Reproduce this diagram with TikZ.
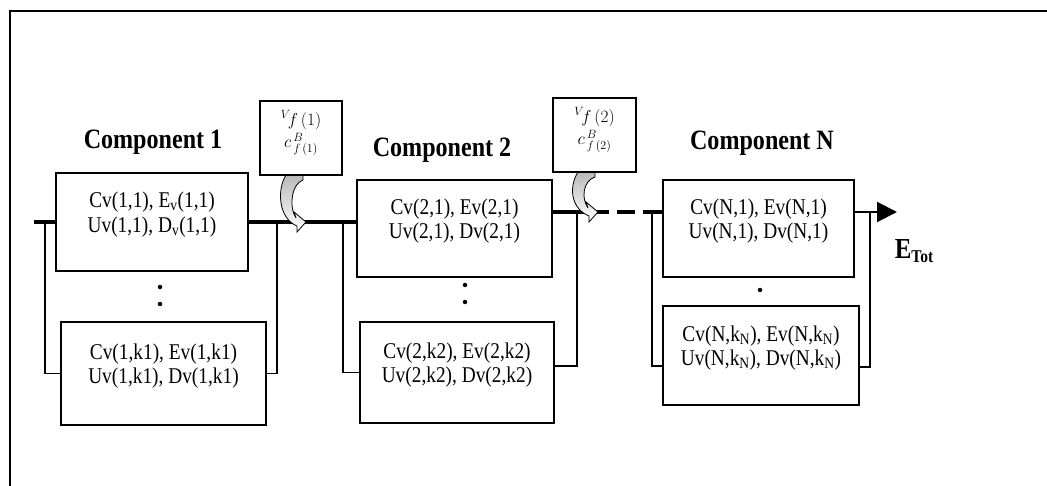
\documentclass[tikz,border=0pt]{standalone}
\usepackage{fontspec}
\setmainfont{Liberation Serif}[FakeStretch=0.86]
\usetikzlibrary{arrows.meta}
\tikzset{
  unit/.style     = {rectangle, draw, line width=1.8pt, fill=white,
                     minimum width=194pt, minimum height=99pt, inner sep=0pt,
                     align=center, font=\fontsize{22.5}{24.5}\selectfont},
  callout/.style  = {rectangle, draw, line width=1.6pt, fill=white,
                     minimum width=82pt, minimum height=74pt, inner sep=0pt,
                     align=center, font=\fontsize{17.28}{15}\selectfont},
  title/.style    = {font=\fontsize{28}{30}\selectfont\bfseries},
  mainline/.style = {line width=4.5pt},
  branch/.style   = {line width=1.4pt},
  output/.style   = {line width=2pt, -{Triangle[length=20pt, width=20pt]}},
  dotmark/.style  = {circle, fill, inner sep=0pt, minimum size=4.5pt},
  bend arrow/.pic = {
    \draw[line width=0.8pt, top color=gray!55, bottom color=white]
      (-18,-#1) -- (-1,-#1) -- (-1,{-#1+5})
      .. controls (-13,{-#1+9}) and (-15,-14) .. (-8,-4)
      -- (-10,-10) -- (2,0) -- (-7,10) -- (-7,4)
      .. controls (-26,-4) and (-27,{-#1+14}) .. cycle;
  }
}

\begin{document}
\begin{tikzpicture}[x=1pt, y=-1pt]
  \useasboundingbox (0,0) rectangle (1047,486);
  \draw[line width=2.6pt] (10,486) -- (10,11) -- (1047,11);

  \node[title] (t1) at (153,142) {Component 1};
  \node[title] (t2) at (442,150) {Component 2};
  \node[title] (tN) at (762,143) {Component N};

  \node[unit, minimum width=192pt, minimum height=98pt] (c1top) at (152,222)
    {Cv(1,1), E\textsubscript{v}(1,1)\\Uv(1,1), D\textsubscript{v}(1,1)\\[-12pt]\strut};
  \node[unit, minimum width=205pt, minimum height=103pt] (c1bot) at (163.5,373.5)
    {Cv(1,k1), Ev(1,k1)\\Uv(1,k1), Dv(1,k1)\\[-12pt]\strut};
  \node[unit, minimum width=195pt, minimum height=97pt] (c2top) at (454.5,228.5)
    {Cv(2,1), Ev(2,1)\\Uv(2,1), Dv(2,1)\\[-12pt]\strut};
  \node[unit, minimum height=101pt] (c2bot) at (457,372.5)
    {Cv(2,k2), Ev(2,k2)\\Uv(2,k2), Dv(2,k2)\\[-12pt]\strut};
  \node[unit, minimum width=191pt, minimum height=97pt] (cNtop) at (758.5,228.5)
    {Cv(N,1), Ev(N,1)\\Uv(N,1), Dv(N,1)\\[-12pt]\strut};
  \node[unit, minimum width=196pt] (cNbot) at (761,355.5)
    {Cv(N,k\textsubscript{N}), Ev(N,k\textsubscript{N})\\Uv(N,k\textsubscript{N}), Dv(N,k\textsubscript{N})\\[-12pt]\strut};

  \node[font=\bfseries] (etot) at (914,251)
    {\fontsize{29}{30}\selectfont E\raisebox{-4pt}{\fontsize{18}{20}\selectfont Tot}};

  \coordinate (in) at (34,222);
  \coordinate (pN) at (0,212);
  \coordinate (out) at (897,212);
  \coordinate (b1l) at (45,222);
  \coordinate (b1r) at (277,222);
  \coordinate (b2l) at (343,221);
  \coordinate (b2r) at (577,212);
  \coordinate (bNl) at (652,212);
  \coordinate (bNr) at (870,212);

  \draw[mainline] (in) -- (c1top.west);
  \draw[mainline] (c1top.east) -- (c1top.east -| c2top.west);
  \draw[mainline, dash pattern=on 56pt off 8pt on 18pt off 8pt on 60pt]
    (c2top.east |- pN) -- (cNtop.west |- pN);
  \draw[output] (cNtop.east |- pN) -- (out);

  \draw[branch] (b1l) |- (c1bot.west);
  \draw[branch] (b1r) |- (c1bot.east);
  \draw[branch] (b2l) |- (c2bot.west);
  \draw[branch] (b2r) |- ([yshift=6.5pt]c2bot.east);
  \draw[branch] (bNl) |- ([yshift=-10.5pt]cNbot.west);
  \draw[branch] (bNr) |- ([yshift=-11.5pt]cNbot.east);

  \node[dotmark] at (160,287) {};
  \node[dotmark] at (160,304) {};
  \node[dotmark] at (465,285) {};
  \node[dotmark] at (465,302) {};
  \node[dotmark] at (760,290) {};

  \pic at (304,222) {bend arrow=47};
  \pic at (596,212) {bend arrow=40};

  \node[callout] (f1) at (301,138)
    {${}^{V}\!f\,(1)$\\[3pt]$c^{\,B}_{\,f\,(1)}$\\[-6pt]\strut};
  \node[callout, minimum width=83pt] (f2) at (594.5,135)
    {${}^{V}\!f\,(2)$\\[3pt]$c^{\,B}_{\,f\,(2)}$\\[-6pt]\strut};
\end{tikzpicture}
\end{document}
